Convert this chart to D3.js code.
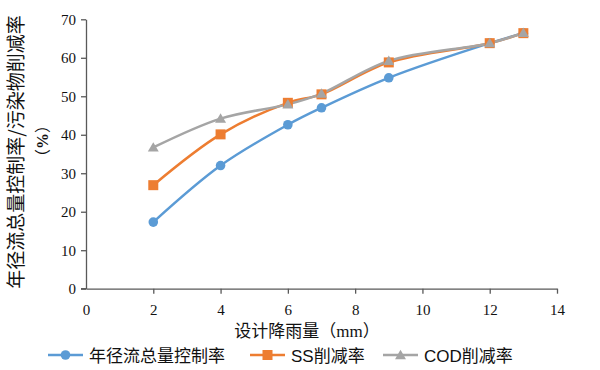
<!DOCTYPE html>
<html><head><meta charset="utf-8">
<script src="https://cdn.jsdelivr.net/npm/d3@7"></script>
<style>body{margin:0;background:#fff}</style>
</head><body>
<svg id="c" width="600" height="370"></svg>
<script>
const xs = [2, 4, 6, 7, 9, 12, 13];
const runoff = [17.3, 32.0, 42.6, 47.0, 54.8, 63.8, 66.4];
const ss = [26.9, 40.1, 48.3, 50.5, 58.8, 63.8, 66.4];
const cod = [36.7, 44.2, 47.9, 50.7, 59.2, 63.8, 66.5];
const seriesNames = ["年径流总量控制率", "SS削减率", "COD削减率"];
const colors = ["#5B9BD5", "#ED7D31", "#A5A5A5"];
const xTicks = [0, 2, 4, 6, 8, 10, 12, 14];
const yTicks = [0, 10, 20, 30, 40, 50, 60, 70];

const svg = d3.select("#c");
const serif = "'Liberation Serif','Times New Roman',serif";
const cjk = "'Noto Sans CJK SC',sans-serif";
const x = d3.scaleLinear().domain([0, 14]).range([86, 557]);
const y = d3.scaleLinear().domain([0, 70]).range([288.7, 19.3]);
const axisColor = "#595959";
const textColor = "#111";

// axes
const gx = svg.append("g").attr("transform", `translate(0,${y(0)})`)
  .call(d3.axisBottom(x).tickValues(xTicks).tickSize(5).tickSizeOuter(0).tickPadding(11));
const gy = svg.append("g").attr("transform", `translate(${x(0)},0)`)
  .call(d3.axisLeft(y).tickValues(yTicks).tickSize(5).tickSizeOuter(0).tickPadding(5));
[gx, gy].forEach(g => {
  g.select(".domain").attr("stroke", axisColor).attr("stroke-width", 1.3);
  g.selectAll(".tick line").attr("stroke", axisColor).attr("stroke-width", 1.3);
  g.selectAll("text").attr("font-family", serif).attr("font-size", 15).attr("fill", textColor);
});
gx.select(".tick line").remove();
svg.append("line").attr("x1", x(0) - 5).attr("x2", x(0)).attr("y1", y(0)).attr("y2", y(0))
  .attr("stroke", axisColor).attr("stroke-width", 1.3);

// axis titles
const xt = svg.append("text").attr("x", 307).attr("y", 337).attr("text-anchor", "middle")
  .attr("font-size", 17).attr("fill", textColor);
xt.append("tspan").attr("font-family", cjk).text("设计降雨量（");
xt.append("tspan").attr("font-family", serif).text("mm");
xt.append("tspan").attr("font-family", cjk).text("）");

svg.append("text").attr("transform", "translate(23,152) rotate(-90)")
  .attr("text-anchor", "middle").attr("font-family", cjk).attr("font-size", 19).attr("fill", textColor)
  .text("年径流总量控制率/污染物削减率");
const yt2 = svg.append("text").attr("transform", "translate(48,141) rotate(-90)")
  .attr("text-anchor", "middle").attr("font-size", 16).attr("fill", textColor);
yt2.append("tspan").attr("font-family", cjk).text("（");
yt2.append("tspan").attr("font-family", serif).attr("font-weight", "bold").text("%");
yt2.append("tspan").attr("font-family", cjk).text("）");

// lines
const data = [runoff, ss, cod];
const line = d3.line().x((d, i) => x(xs[i])).y(d => y(d)).curve(d3.curveCatmullRom.alpha(0.5));
const order = [0, 1, 2];
order.forEach(k => {
  svg.append("path").attr("d", line(data[k])).attr("fill", "none")
    .attr("stroke", colors[k]).attr("stroke-width", 2.5);
});
function marker(g, k, cx, cy) {
  if (k === 0) g.append("circle").attr("cx", cx).attr("cy", cy).attr("r", 4.8).attr("fill", colors[k]);
  else if (k === 1) g.append("rect").attr("x", cx - 5).attr("y", cy - 5).attr("width", 10).attr("height", 10).attr("fill", colors[k]);
  else g.append("path").attr("d", d3.symbol(d3.symbolTriangle, 52)()).attr("transform", `translate(${cx},${cy + 1})`).attr("fill", colors[k]);
}
order.forEach(k => {
  const g = svg.append("g");
  data[k].forEach((v, i) => marker(g, k, x(xs[i]), y(v)));
});

// legend
const legX = [48, 250, 383];
legX.forEach((lx, k) => {
  const g = svg.append("g");
  g.append("line").attr("x1", lx).attr("x2", lx + 35).attr("y1", 355).attr("y2", 355)
    .attr("stroke", colors[k]).attr("stroke-width", 2.5);
  marker(g, k, lx + 17.5, 355);
  const t = g.append("text").attr("x", lx + 41).attr("y", 362).attr("font-size", 17).attr("fill", textColor);
  if (k === 0) t.attr("font-family", cjk).text(seriesNames[0]);
  else {
    const m = seriesNames[k].match(/^([A-Z]+)(.*)$/);
    t.append("tspan").attr("font-family", "'Liberation Sans',Arial,sans-serif").text(m[1]);
    t.append("tspan").attr("font-family", cjk).text(m[2]);
  }
});
</script>
</body></html>
